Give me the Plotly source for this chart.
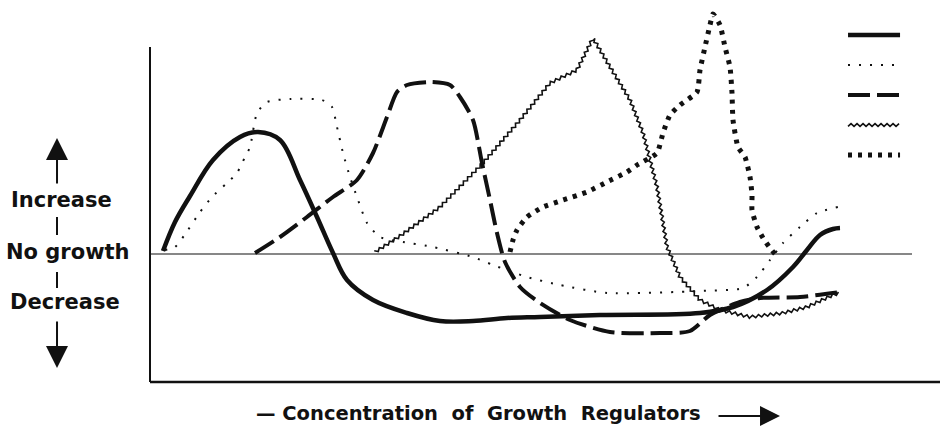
import numpy as np
import plotly.graph_objects as go

# Response curves: x = concentration (arbitrary units), y = growth response (0 = no growth)
solid_x = [13, 25, 40, 63, 90, 108, 130, 150, 167, 183, 197, 223, 257, 290, 323, 357, 390, 450, 550, 583, 617, 643, 657, 670, 683, 690]
solid_y = [3, 32, 58, 94, 117, 122, 114, 74, 37, 1, -26, -46, -59, -67, -67, -64, -63, -61, -59, -53, -36, -13, 4, 19, 25, 26]

fine_dot_x = [15, 25, 38, 50, 62, 77, 87, 95, 100, 107, 117, 140, 172, 182, 187, 193, 200, 207, 217, 230, 253, 283, 323, 343, 377, 410, 457, 550, 593, 607, 620, 633, 650, 667, 688]
fine_dot_y = [4, 7, 24, 42, 57, 71, 81, 97, 107, 141, 152, 155, 154, 147, 127, 101, 77, 57, 31, 17, 12, 7, -3, -11, -23, -31, -39, -37, -34, -23, -6, 11, 27, 41, 47]

dash_x = [105, 130, 157, 183, 207, 223, 237, 247, 257, 280, 300, 310, 323, 332, 340, 347, 355, 370, 390, 420, 460, 510, 540, 560, 590, 610, 650, 690]
dash_y = [1, 17, 37, 57, 74, 101, 137, 162, 169, 172, 169, 157, 134, 91, 54, 21, -8, -33, -49, -66, -78, -79, -77, -61, -48, -44, -43, -38]

wavy_x = [225, 250, 290, 333, 370, 400, 427, 443, 460, 480, 493, 507, 517, 530, 550, 570, 600, 633, 657, 683, 690]
wavy_y = [2, 18, 47, 91, 134, 171, 184, 216, 187, 154, 121, 67, 7, -23, -46, -56, -63, -59, -53, -41, -39]

bold_dot_x = [360, 363, 367, 377, 393, 413, 437, 457, 477, 487, 507, 513, 520, 530, 547, 550, 555, 560, 563, 570, 575, 580, 582, 583, 588, 595, 600, 602, 602, 607, 613, 620, 625]
bold_dot_y = [2, 14, 24, 37, 47, 54, 62, 72, 82, 89, 101, 121, 139, 149, 162, 184, 207, 229, 240, 229, 207, 187, 161, 134, 107, 97, 77, 59, 44, 27, 16, 6, 0]

INK = "#111111"
FONT = "DejaVu Sans"


def zigzag(xs, ys, sx=1.0, sy=1.0, step=3.0, amp=1.4):
    """Render a polyline as a fine sawtooth stroke (screen scale sx, sy px per unit)."""
    px = np.asarray(xs, float) * sx
    py = np.asarray(ys, float) * sy
    seg = np.hypot(np.diff(px), np.diff(py))
    cum = np.concatenate([[0.0], np.cumsum(seg)])
    s = np.arange(0.0, cum[-1] + 1e-9, step)
    qx = np.interp(s, cum, px)
    qy = np.interp(s, cum, py)
    idx = np.clip(np.searchsorted(cum, s, side="right") - 1, 0, len(seg) - 1)
    tx = np.diff(px)[idx] / seg[idx]
    ty = np.diff(py)[idx] / seg[idx]
    sign = np.where(np.arange(len(s)) % 2 == 0, 1.0, -1.0)
    ox = qx - ty * amp * sign
    oy = qy + tx * amp * sign
    return ox / sx, oy / sy


styles = {
    "solid": dict(color=INK, width=4.5),
    "fine": dict(color=INK, width=2, dash="2px,9px"),
    "dash": dict(color=INK, width=4, dash="22px,7px"),
    "wavy": dict(color=INK, width=1.6),
    "bold": dict(color=INK, width=5, dash="4px,6px"),
}

fig = go.Figure()

fig.add_trace(go.Scatter(x=solid_x, y=solid_y, mode="lines", line=dict(**styles["solid"], shape="spline", smoothing=1.0)))
fig.add_trace(go.Scatter(x=fine_dot_x, y=fine_dot_y, mode="lines", line=dict(**styles["fine"], shape="spline", smoothing=0.6)))
fig.add_trace(go.Scatter(x=dash_x, y=dash_y, mode="lines", line=dict(**styles["dash"], shape="spline", smoothing=0.7)))
wx, wy = zigzag(wavy_x, wavy_y)
fig.add_trace(go.Scatter(x=wx, y=wy, mode="lines", line=styles["wavy"]))
fig.add_trace(go.Scatter(x=bold_dot_x, y=bold_dot_y, mode="lines", line=dict(**styles["bold"], shape="spline", smoothing=0.5)))

# Key samples (top right), one row per curve
key_rows = ["solid", "fine", "dash", "wavy", "bold"]
key_x = [0, 1]
for row, name in enumerate(key_rows):
    if name == "wavy":
        kx, ky = zigzag(key_x, [row, row], sx=52, sy=30)
        fig.add_trace(go.Scatter(x=kx, y=ky, mode="lines", line=styles[name], xaxis="x2", yaxis="y2"))
    else:
        fig.add_trace(go.Scatter(x=key_x, y=[row, row], mode="lines", line=styles[name], xaxis="x2", yaxis="y2"))

shapes = [
    # zero-growth reference line
    dict(type="line", xref="x", yref="y", x0=0, x1=762, y0=0, y1=0, line=dict(color=INK, width=1.2)),
    # axes
    dict(type="line", xref="paper", yref="paper", x0=0, x1=0, y0=0, y1=0.8957, line=dict(color=INK, width=2)),
    dict(type="line", xref="paper", yref="paper", x0=0, x1=1, y0=0, y1=0, line=dict(color=INK, width=2.5)),
    # small separators between the side labels
    dict(type="line", xref="paper", yref="y", x0=-0.1177, x1=-0.1177, y0=19, y1=37, line=dict(color=INK, width=2)),
    dict(type="line", xref="paper", yref="y", x0=-0.1177, x1=-0.1177, y0=-34, y1=-18, line=dict(color=INK, width=2)),
]

side_font = dict(family=FONT, size=21, color=INK, weight="bold")
side = dict(xref="paper", yref="y", showarrow=False, font=side_font, xanchor="center", yanchor="middle")
annotations = [
    dict(text="Increase", x=-0.1114, y=54, **side),
    dict(text="No growth", x=-0.1038, y=2, **side),
    dict(text="Decrease", x=-0.1076, y=-48, **side),
    dict(text="", xref="paper", yref="y", x=-0.1177, y=116, ax=0, ay=47, showarrow=True,
         arrowhead=2, arrowsize=2.2, arrowwidth=2, arrowcolor=INK, standoff=0),
    dict(text="", xref="paper", yref="y", x=-0.1177, y=-114, ax=0, ay=-48, showarrow=True,
         arrowhead=2, arrowsize=2.2, arrowwidth=2, arrowcolor=INK, standoff=0),
    dict(text="\u2014 Concentration\u00a0 of\u00a0 Growth\u00a0 Regulators", xref="paper", yref="paper",
         x=0.4152, y=-0.0829, xanchor="center", yanchor="middle", showarrow=False,
         font=dict(family=FONT, size=19.5, color=INK, weight="bold")),
    dict(text="", xref="paper", yref="paper", x=0.7975, y=-0.0909, ax=-63, ay=0, showarrow=True,
         arrowhead=2, arrowsize=2.0, arrowwidth=2, arrowcolor=INK, standoff=0),
]

fig.update_layout(
    width=943, height=432,
    margin=dict(l=150, r=3, t=8, b=50),
    paper_bgcolor="white", plot_bgcolor="white",
    showlegend=False,
    xaxis=dict(range=[0, 790], visible=False, fixedrange=True),
    yaxis=dict(range=[-128, 246], visible=False, fixedrange=True),
    xaxis2=dict(domain=[0.877, 0.956], range=[-0.1, 1.1], visible=False, anchor="y2"),
    yaxis2=dict(domain=[0.583, 0.952], range=[4.3, -0.3], visible=False, anchor="x2"),
    shapes=shapes,
    annotations=annotations,
)

fig.write_html("out.html")
